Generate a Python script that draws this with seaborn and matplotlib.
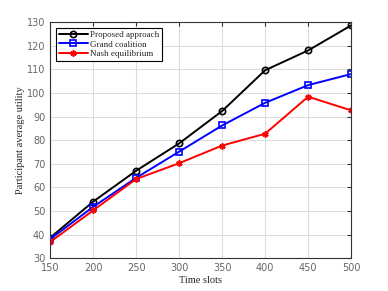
import matplotlib
matplotlib.use("Agg")
import matplotlib.pyplot as plt
import seaborn as sns
import pandas as pd

time_slots = [150, 200, 250, 300, 350, 400, 450, 500]
proposed = [38.6, 53.9, 67.0, 78.6, 92.3, 109.6, 118.0, 128.6]
grand = [38.0, 51.7, 64.0, 75.1, 86.2, 95.8, 103.3, 108.0]
nash = [36.8, 50.2, 63.5, 70.2, 77.7, 82.7, 98.4, 92.6]
series_names = ["Proposed approach", "Grand coalition", "Nash equilibrium"]
colors = ["black", "blue", "red"]
y_ticks = [30, 40, 50, 60, 70, 80, 90, 100, 110, 120, 130]

sns.set_style("white")
plt.rcParams["font.family"] = ["DejaVu Sans"]

fig = plt.figure(figsize=(3.88, 2.91), dpi=100)
ax = fig.add_axes([0.129, 0.113, 0.776, 0.811])

marker_list = ["o", "s", (6, 2, 0)]
for name, vals, c, m in zip(series_names, [proposed, grand, nash], colors, marker_list):
    d = pd.DataFrame({"Time slots": time_slots, "utility": vals})
    sns.lineplot(data=d, x="Time slots", y="utility", color=c, marker=m, label=name,
                 linewidth=1.4, markersize=4.5, markerfacecolor="none",
                 markeredgecolor=c, markeredgewidth=1.2, ax=ax)

ax.set_xlim(150, 500)
ax.set_ylim(30, 130)
ax.set_xticks(time_slots)
ax.set_yticks(y_ticks)
ax.grid(True, color="#dddddd", linewidth=0.8)
ax.tick_params(direction="in", top=True, right=True, length=3, labelsize=7,
               labelcolor="#666666", colors="#333333")
for s in ax.spines.values():
    s.set_color("#333333")
    s.set_linewidth(0.8)
ax.set_xlabel("Time slots", family="Liberation Serif", fontsize=7.5, labelpad=2)
ax.set_ylabel("Participant average utility", family="Liberation Serif", fontsize=7.5, labelpad=1)

handles, labels = ax.get_legend_handles_labels()
leg = ax.legend(handles, labels, loc="upper left", prop={"family": "Liberation Serif", "size": 6.5},
                frameon=True, fancybox=False, edgecolor="black", framealpha=1,
                borderpad=0.3, labelspacing=0.15, handlelength=3.2, handletextpad=0.3,
                bbox_to_anchor=(0.005, 0.995))
leg.get_frame().set_linewidth(0.8)

fig.savefig("out.png", dpi=100)
